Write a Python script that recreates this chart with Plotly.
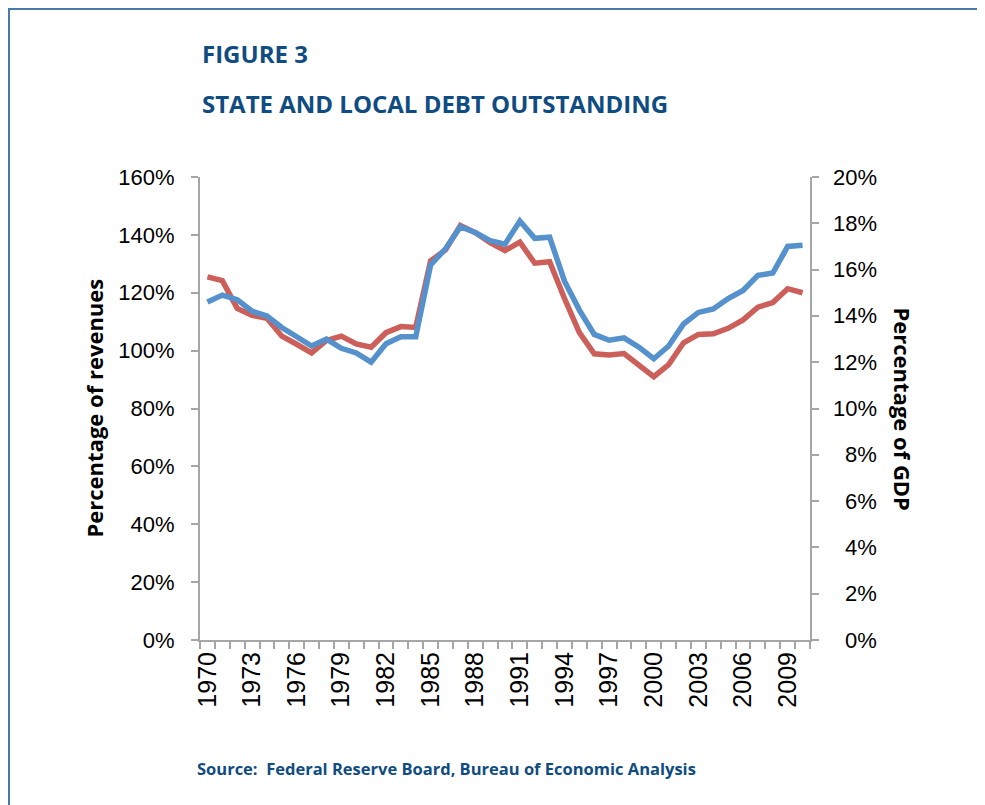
import plotly.graph_objects as go

years = list(range(1970, 2011))

# Percentage of revenues (left axis, %)
debt_pct_revenues = [125.5, 124.2, 114.6, 112.2, 111.2, 105.0, 102.2, 99.2, 103.5, 105.0,
                     102.3, 101.2, 106.2, 108.3, 108.0, 131.0, 134.8, 143.2, 140.8, 137.3,
                     134.6, 137.5, 130.2, 130.7, 118.0, 106.2, 98.9, 98.5, 99.0, 95.2,
                     91.0, 95.2, 102.7, 105.6, 105.8, 107.7, 110.6, 115.0, 116.6, 121.4,
                     120.0]

# Percentage of GDP (right axis, %)
debt_pct_gdp = [14.6, 14.9, 14.7, 14.2, 14.0, 13.5, 13.1, 12.7, 13.0, 12.6,
                12.4, 12.0, 12.8, 13.1, 13.1, 16.2, 16.9, 17.85, 17.6, 17.25,
                17.1, 18.1, 17.35, 17.4, 15.5, 14.25, 13.2, 12.95, 13.05, 12.65,
                12.15, 12.7, 13.65, 14.15, 14.3, 14.75, 15.1, 15.75, 15.85, 17.0,
                17.05]

x_tick_years = list(range(1970, 2011, 3))
right_ticks = [0, 2, 4, 6, 8, 10, 12, 14, 16, 18, 20]

RED = "#CD5F5A"
BLUE = "#5591CC"
AXIS = "#A6A6A6"
NAVY = "#0F4C81"

fig = go.Figure()
fig.add_trace(go.Scatter(x=years, y=[v / 100 for v in debt_pct_revenues], mode="lines",
                         line=dict(color=RED, width=5.5), name="Percentage of revenues",
                         yaxis="y"))
fig.add_trace(go.Scatter(x=years, y=[v / 100 for v in debt_pct_gdp], mode="lines",
                         line=dict(color=BLUE, width=5.5), name="Percentage of GDP",
                         yaxis="y2"))

tickfont = dict(family="Liberation Sans, Arial, sans-serif", size=22, color="#000000")
xtickfont = dict(family="Liberation Sans, Arial, sans-serif", size=25, color="#000000")

fig.update_layout(
    width=977, height=797,
    margin=dict(l=192, r=175, t=169, b=165),
    paper_bgcolor="white", plot_bgcolor="white",
    showlegend=False,
    xaxis=dict(
        range=[1969.5, 2010.5], tickmode="array", tickvals=x_tick_years,
        ticktext=[str(y) for y in x_tick_years], tickangle=-90, ticks="",
        tickfont=xtickfont, showgrid=False, zeroline=False,
        showline=True, linecolor=AXIS, linewidth=2,
        minor=dict(tickmode="linear", tick0=1969.5, dtick=1, ticks="outside",
                   ticklen=7, tickcolor=AXIS, tickwidth=2, showgrid=False),
    ),
    yaxis=dict(
        range=[0, 1.6], dtick=0.2, tickformat=".0%", ticks="outside", ticklen=7,
        tickcolor=AXIS, tickwidth=2, showline=True, linecolor=AXIS, linewidth=2,
        showgrid=False, zeroline=False, tickfont=tickfont, ticklabelstandoff=12,
    ),
    yaxis2=dict(
        range=[0, 0.2], tickmode="array", tickvals=[t / 100 for t in right_ticks],
        showticklabels=False, ticks="outside", ticklen=7,
        tickcolor=AXIS, tickwidth=2, showline=True, linecolor=AXIS, linewidth=2,
        showgrid=False, zeroline=False, overlaying="y", side="right",
    ),
    font=dict(family="Open Sans, sans-serif"),
)

ann = []
ann.append(dict(text="<b>FIGURE 3</b>", xref="paper", yref="paper", x=0, y=1.2678,
                xanchor="left", yanchor="middle", showarrow=False,
                font=dict(family="Open Sans, sans-serif", size=24, color=NAVY)))
ann.append(dict(text="<b>STATE AND LOCAL DEBT OUTSTANDING</b>", xref="paper", yref="paper",
                x=0, y=1.1577, xanchor="left", yanchor="middle", showarrow=False,
                font=dict(family="Open Sans, sans-serif", size=24, color=NAVY)))
ann.append(dict(text="<b>Source:  Federal Reserve Board, Bureau of Economic Analysis</b>",
                xref="paper", yref="paper", x=-0.008, y=-0.2765, xanchor="left",
                yanchor="middle", showarrow=False,
                font=dict(family="Open Sans, sans-serif", size=16.5, color=NAVY)))
ann.append(dict(text="<b>Percentage of revenues</b>", xref="paper", yref="paper",
                x=-0.1754, y=0.5, xanchor="center", yanchor="middle", textangle=-90,
                showarrow=False, font=dict(family="Open Sans, sans-serif", size=22, color="#000")))
ann.append(dict(text="<b>Percentage of GDP</b>", xref="paper", yref="paper",
                x=1.1525, y=0.5, xanchor="center", yanchor="middle", textangle=90,
                showarrow=False, font=dict(family="Open Sans, sans-serif", size=22, color="#000")))
for t in right_ticks:
    ann.append(dict(text=f"{t}%", xref="paper", yref="y2", x=1.1131, y=t / 100,
                    xanchor="right", yanchor="middle", showarrow=False, font=tickfont))
fig.update_layout(annotations=ann)

fig.add_shape(type="rect", xref="paper", yref="paper", x0=-0.3131, x1=2.0, y0=-2.0, y1=1.3629,
              line=dict(color="#4A78A8", width=2), fillcolor="rgba(0,0,0,0)", layer="below")

fig.write_html("out.html")
